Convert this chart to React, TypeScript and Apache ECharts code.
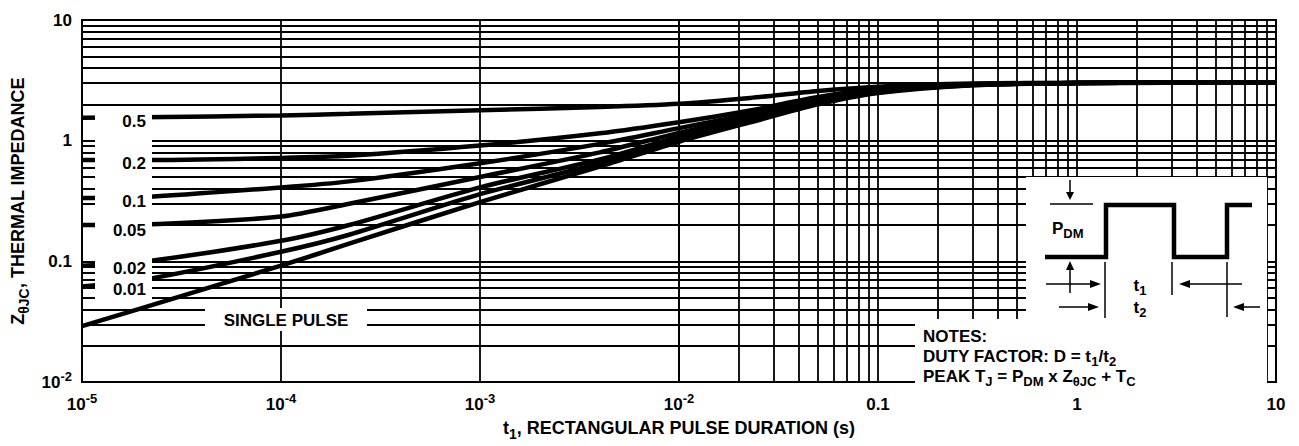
import React, { useEffect, useRef } from 'react';
import * as echarts from 'echarts';

// Pulse duration t1 (s) at which each curve is sampled
const durations = [1e-5, 2e-5, 1e-4, 2.2e-4, 1e-3, 4e-3, 1e-2, 2.28e-2, 5e-2, 0.1, 0.3, 1, 10];

// Transient thermal impedance Z_thetaJC for each duty factor
const zD05 = [1.55, 1.56, 1.62, 1.67, 1.79, 1.9, 2.02, 2.26, 2.58, 2.8, 2.97, 3.02, 3.05];
const zD02 = [0.69, 0.69, 0.72, 0.75, 0.91, 1.15, 1.42, 1.78, 2.3, 2.68, 2.94, 3.0, 3.05];
const zD01 = [0.335, 0.34, 0.41, 0.46, 0.65, 0.94, 1.27, 1.66, 2.2, 2.62, 2.92, 3.0, 3.05];
const zD005 = [0.2, 0.202, 0.235, 0.3, 0.5, 0.8, 1.16, 1.58, 2.13, 2.58, 2.91, 3.0, 3.05];
const zD002 = [0.092, 0.099, 0.148, 0.2, 0.41, 0.7, 1.08, 1.52, 2.08, 2.54, 2.9, 3.0, 3.05];
const zD001 = [0.062, 0.07, 0.12, 0.166, 0.36, 0.65, 1.03, 1.47, 2.04, 2.51, 2.89, 3.0, 3.05];
const zSingle = [0.029, 0.041, 0.092, 0.14, 0.31, 0.61, 0.98, 1.42, 2.0, 2.48, 2.88, 3.0, 3.05];

const dutyLabels = ['0.5', '0.2', '0.1', '0.05', '0.02', '0.01'];
const singlePulseLabel = 'SINGLE PULSE';

const xTickLabels = ['10^-5', '10^-4', '10^-3', '10^-2', '0.1', '1', '10'];
const yTickLabels = ['10^-2', '0.1', '1', '10'];

const FONT = 'Liberation Sans';

function toRich(s: string) {
  const i = s.indexOf('^');
  if (i < 0) return `{b|${s}}`;
  return `{b|${s.slice(0, i)}}{sup|${s.slice(i + 1)}}`;
}

const tickRich = {
  b: { fontSize: 17, fontWeight: 'bold', fontFamily: FONT, color: '#000', lineHeight: 24 },
  sup: { fontSize: 13, fontWeight: 'bold', fontFamily: FONT, color: '#000', lineHeight: 13, verticalAlign: 'top' },
};

const textRich = {
  b: { fontSize: 17, fontWeight: 'bold', fontFamily: FONT, color: '#000', lineHeight: 24 },
  s: { fontSize: 13, fontWeight: 'bold', fontFamily: FONT, color: '#000', lineHeight: 14, verticalAlign: 'bottom' },
};

const titleRich = {
  b: { fontSize: 18, fontWeight: 'bold', fontFamily: FONT, color: '#000', lineHeight: 26 },
  s: { fontSize: 14, fontWeight: 'bold', fontFamily: FONT, color: '#000', lineHeight: 15, verticalAlign: 'bottom' },
};

export default function App() {
  const ref = useRef<HTMLDivElement>(null);

  useEffect(() => {
    if (!ref.current) return;
    const chart = echarts.init(ref.current, undefined, { renderer: 'svg' });

    const xMinor: number[] = [];
    for (let e = -5; e < 1; e++) for (let m = 2; m <= 9; m++) xMinor.push(m * Math.pow(10, e));
    const yMinor: number[] = [];
    for (let e = -2; e < 1; e++) for (let m = 2; m <= 9; m++) yMinor.push(m * Math.pow(10, e));

    const curves = [zD05, zD02, zD01, zD005, zD002, zD001, zSingle];
    const names = [...dutyLabels, singlePulseLabel];

    const black = '#000';
    const gridW = 1.8;
    const line = (x1: number, y1: number, x2: number, y2: number, w = 1.5) => ({
      type: 'line', z: 101, shape: { x1, y1, x2, y2 }, style: { stroke: black, lineWidth: w },
    });
    const tri = (pts: number[][]) => ({ type: 'polygon', z: 101, shape: { points: pts }, style: { fill: black } });
    const rect = (x: number, y: number, width: number, height: number) => ({
      type: 'rect', z: 100, shape: { x, y, width, height }, style: { fill: '#fff' },
    });
    const txt = (x: number, y: number, text: string, align = 'left') => ({
      type: 'text', z: 102, x, y,
      style: { text, rich: textRich, align, verticalAlign: 'middle', fontFamily: FONT, fontWeight: 'bold', fontSize: 17, fill: black },
    });

    const dutyY = [121, 163, 201, 230, 268, 289];

    const graphic: any[] = [
      // duty factor label box
      rect(95, 107, 57, 196),
      ...dutyLabels.map((d, i) => txt(146, dutyY[i], `{b|${d}}`, 'right')),
      // single pulse label
      rect(205, 308, 162, 23),
      txt(286, 320, `{b|${singlePulseLabel}}`, 'center'),
      // inset box
      rect(1026, 177, 241, 143),
      rect(915, 319, 352, 66),
      // pulse waveform
      {
        type: 'polyline', z: 101,
        shape: { points: [[1045, 257], [1106, 257], [1106, 205], [1174, 205], [1174, 257], [1227, 257], [1227, 205], [1252, 205]] },
        style: { stroke: black, lineWidth: 4.5, fill: null },
      },
      line(1050, 204, 1093, 204),
      line(1070, 180, 1070, 194),
      tri([[1066, 192], [1074, 192], [1070, 200]]),
      txt(1052, 228, '{b|P}{s|DM}'),
      line(1070, 293, 1070, 268),
      tri([[1066, 270], [1074, 270], [1070, 261]]),
      line(1105, 262, 1105, 318),
      line(1172, 262, 1172, 295),
      line(1227, 262, 1227, 317),
      line(1046, 284, 1092, 284),
      tri([[1090, 280], [1090, 288], [1101, 284]]),
      line(1242, 284, 1188, 284),
      tri([[1190, 280], [1190, 288], [1179, 284]]),
      line(1059, 307, 1090, 307),
      tri([[1088, 303], [1088, 311], [1099, 307]]),
      line(1260, 307, 1242, 307),
      tri([[1244, 303], [1244, 311], [1233, 307]]),
      txt(1140, 285, '{b|t}{s|1}', 'center'),
      txt(1140, 307, '{b|t}{s|2}', 'center'),
      // notes
      txt(923, 336, '{b|NOTES:}'),
      txt(923, 356, '{b|DUTY FACTOR: D = t}{s|1}{b|/t}{s|2}'),
      txt(923, 376, '{b|PEAK T}{s|J}{b| = P}{s|DM}{b| x Z}{s|θJC}{b| + T}{s|C}'),
    ];

    chart.setOption({
      animation: false,
      backgroundColor: '#fff',
      grid: { left: 82, right: 23, top: 20, bottom: 53, show: true, borderColor: black, borderWidth: 2, backgroundColor: 'transparent' },
      xAxis: {
        type: 'log', logBase: 10, min: 1e-5, max: 10, splitNumber: 6,
        axisLine: { show: true, lineStyle: { color: black, width: 2 } },
        axisTick: { show: false },
        splitLine: { show: true, lineStyle: { color: black, width: gridW } },
        axisLabel: {
          margin: 10, showMinLabel: true, showMaxLabel: true,
          formatter: (v: number) => toRich(xTickLabels[Math.round(Math.log10(v)) + 5] ?? ''),
          rich: tickRich,
        },
        name: '{b|t}{s|1}{b|, RECTANGULAR PULSE DURATION (s)}',
        nameLocation: 'middle', nameGap: 33,
        nameTextStyle: { rich: titleRich },
      },
      yAxis: {
        type: 'log', logBase: 10, min: 0.01, max: 10, splitNumber: 3,
        axisLine: { show: true, lineStyle: { color: black, width: 2 } },
        axisTick: { show: false },
        splitLine: { show: true, lineStyle: { color: black, width: gridW } },
        axisLabel: {
          margin: 10, showMinLabel: true, showMaxLabel: true,
          formatter: (v: number) => toRich(yTickLabels[Math.round(Math.log10(v)) + 2] ?? ''),
          rich: tickRich,
        },
        name: '{b|Z}{s|θJC}{b|, THERMAL IMPEDANCE}',
        nameLocation: 'middle', nameGap: 51, nameRotate: 90,
        nameTextStyle: { rich: titleRich },
      },
      graphic,
      series: [
        {
          type: 'line', silent: true, symbol: 'none', data: [],
          markLine: {
            silent: true, symbol: ['none', 'none'], label: { show: false }, animation: false,
            lineStyle: { color: black, width: gridW, type: 'solid' },
            emphasis: { disabled: true },
            data: [...xMinor.map((v) => ({ xAxis: v })), ...yMinor.map((v) => ({ yAxis: v }))],
          },
        },
        ...curves.map((vals, i) => ({
          type: 'line', name: names[i], silent: true, symbol: 'none', smooth: 0.25, z: 3,
          lineStyle: { color: black, width: 4.5 },
          data: durations.map((d, j) => [d, vals[j]]),
        })),
      ],
    });

    return () => chart.dispose();
  }, []);

  return <div ref={ref} style={{ position: 'absolute', left: 0, top: 0, width: 1299, height: 446 }} />;
}
